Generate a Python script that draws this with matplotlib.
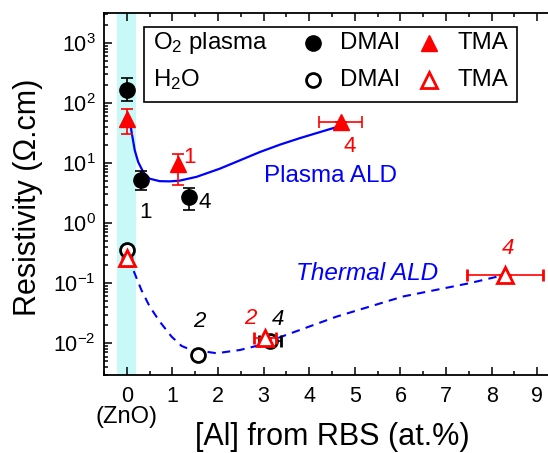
import matplotlib
matplotlib.use("Agg")
import matplotlib.pyplot as plt
from matplotlib.patches import Rectangle
from matplotlib.ticker import MultipleLocator, LogLocator, NullFormatter

plt.rcParams['font.family'] = ['Liberation Sans', 'DejaVu Sans']
plt.rcParams['mathtext.fontset'] = 'custom'
plt.rcParams['mathtext.rm'] = 'Liberation Sans'
plt.rcParams['mathtext.it'] = 'Liberation Sans:italic'
plt.rcParams['mathtext.default'] = 'regular'

# ---------------- data ----------------
# Plasma ALD, DMAI (filled circles)
pd_x = [0.0, 0.32, 1.36]
pd_y = [166, 5.3, 2.7]
pd_ylo = [110, 3.5, 1.66]
pd_yhi = [265, 7.5, 3.9]

# Plasma ALD, TMA (filled triangles)
pt_x = [0.0, 1.13, 4.69]
pt_y = [55, 9.8, 48]
pt_ylo = [31, 4.3, 48]
pt_yhi = [80, 14, 48]
pt_xlo = [0.0, 1.13, 4.22]
pt_xhi = [0.0, 1.13, 5.15]

# Thermal ALD, DMAI (open circles)
td_x = [0.0, 1.56, 3.14]
td_y = [0.36, 0.0064, 0.0107]
td_xlo = [0.0, 1.56, 2.89]
td_xhi = [0.0, 1.56, 3.39]

# Thermal ALD, TMA (open triangles)
tt_x = [0.0, 3.03, 8.30]
tt_y = [0.26, 0.012, 0.138]
tt_ylo = [0.19, 0.012, 0.138]
tt_yhi = [0.26, 0.012, 0.138]
tt_xlo = [0.0, 2.78, 7.46]
tt_xhi = [0.0, 3.28, 9.12]

# guide-to-the-eye curves
plasma_curve_x = [0.0, 0.08, 0.125, 0.175, 0.25, 0.36, 0.50, 0.72, 0.94, 1.16, 1.53, 2.04,
                  2.48, 2.92, 3.36, 3.80, 4.24, 4.53, 4.69]
plasma_curve_y = [58, 42.5, 27, 16.3, 10.4, 7.1, 5.5, 5.0, 4.96, 5.1, 5.9, 8.07,
                  11.1, 15.3, 20.3, 26.1, 32.9, 38.3, 42]
thermal_curve_x = [0.0, 0.14, 0.32, 0.50, 0.72, 0.98, 1.20, 1.38, 1.97, 2.48, 2.92, 3.40,
                   4.60, 6.06, 7.52, 8.30]
thermal_curve_y = [0.26, 0.167, 0.077, 0.041, 0.023, 0.0129, 0.009, 0.0079, 0.0068, 0.0077,
                   0.0093, 0.0129, 0.0277, 0.060, 0.10, 0.138]

xticks = [0, 1, 2, 3, 4, 5, 6, 7, 8, 9]

# ---------------- figure ----------------
W, H = 548, 453
fig = plt.figure(figsize=(W / 100, H / 100), dpi=100)
L, R, T, B = 104, 560, 13, 375
ax = fig.add_axes([L / W, 1 - B / H, (R - L) / W, (B - T) / H])
ax.set_yscale('log')
ax.set_xlim(-0.5, 9.5)
ax.set_ylim(10 ** -2.53, 10 ** 3.5)

# ZnO band
ax.axvspan(-0.21, 0.2, color='#c8f9f9', lw=0, zorder=0)

BLUE = '#0000ff'
RED = '#ff0000'

ax.plot(plasma_curve_x, plasma_curve_y, color=BLUE, lw=1.6, zorder=2)
ax.plot(thermal_curve_x, thermal_curve_y, color=BLUE, lw=1.5, ls=(0, (4, 3)), zorder=2)

ms = 11
cap = 4.3
elw = 1.2

def yerr(y, lo, hi):
    return [[a - b for a, b in zip(y, lo)], [c - a for a, c in zip(y, hi)]]

def xerr(x, lo, hi):
    return [[a - b for a, b in zip(x, lo)], [c - a for a, c in zip(x, hi)]]

# plasma DMAI
ax.errorbar(pd_x, pd_y, yerr=yerr(pd_y, pd_ylo, pd_yhi), fmt='o', color='black',
            ms=ms, capsize=cap, elinewidth=elw, capthick=elw, zorder=3)
# plasma TMA
ax.errorbar(pt_x, pt_y, yerr=yerr(pt_y, pt_ylo, pt_yhi), xerr=xerr(pt_x, pt_xlo, pt_xhi),
            fmt='^', color=RED, ms=ms + 1, capsize=cap, elinewidth=elw, capthick=elw, zorder=4)
# thermal DMAI
ax.errorbar(td_x, td_y, xerr=xerr(td_x, td_xlo, td_xhi), fmt='o', color='black',
            mfc='white', mec='black', mew=2.0, ms=ms - 1, capsize=cap, elinewidth=elw,
            capthick=elw, zorder=3)
# thermal TMA
ax.errorbar(tt_x, tt_y, yerr=yerr(tt_y, tt_ylo, tt_yhi), xerr=xerr(tt_x, tt_xlo, tt_xhi),
            fmt='^', color=RED, mfc='white', mec=RED, mew=2.0, ms=ms, capsize=cap,
            elinewidth=elw, capthick=elw, zorder=4)

# annotations
fs_num = 16
ax.text(1.38, 12.4, "1", color=RED, fontsize=fs_num, ha='center', va='center')
ax.text(0.41, 1.5, "1", color='black', fontsize=fs_num, ha='center', va='center')
ax.text(1.71, 2.24, "4", color='black', fontsize=fs_num, ha='center', va='center')
ax.text(4.88, 18.6, "4", color=RED, fontsize=fs_num, ha='center', va='center')
ax.text(1.58, 0.023, "2", color='black', fontsize=fs_num, style='italic', ha='center', va='center')
ax.text(2.70, 0.026, "2", color=RED, fontsize=fs_num, style='italic', ha='center', va='center')
ax.text(3.31, 0.0245, "4", color='black', fontsize=fs_num, style='italic', ha='center', va='center')
ax.text(8.35, 0.38, "4", color=RED, fontsize=fs_num, style='italic', ha='center', va='center')
ax.text(4.46, 6.2, "Plasma ALD", color=BLUE, fontsize=17.5, ha='center', va='center')
ax.text(5.27, 0.147, "Thermal ALD", color=BLUE, fontsize=17.5, style='italic', ha='center', va='center')

# legend box (manual)
ax.add_patch(Rectangle((0.0877, 0.754), 0.906 - 0.0877, 0.961 - 0.754, transform=ax.transAxes,
                       fill=True, facecolor='white', edgecolor='black', lw=1.2, zorder=5))
fs_leg = 17.3
row1, row2 = 0.917, 0.815
ax.text(0.107, row1, "O$_2$ plasma", transform=ax.transAxes, fontsize=fs_leg, va='center', zorder=6)
ax.text(0.107, row2, "H$_2$O", transform=ax.transAxes, fontsize=fs_leg, va='center', zorder=6)
ax.plot([0.4577], [row1], 'o', color='black', ms=ms, transform=ax.transAxes, zorder=6, clip_on=False)
ax.plot([0.4577], [row2], 'o', color='black', mfc='white', mew=2.0, ms=ms - 1,
        transform=ax.transAxes, zorder=6, clip_on=False)
ax.plot([0.7127], [row1], '^', color=RED, ms=ms + 1, transform=ax.transAxes, zorder=6, clip_on=False)
ax.plot([0.7127], [row2], '^', color=RED, mfc='white', mew=2.0, ms=ms,
        transform=ax.transAxes, zorder=6, clip_on=False)
for r in (row1, row2):
    ax.text(0.5175, r, "DMAI", transform=ax.transAxes, fontsize=fs_leg, va='center', zorder=6)
    ax.text(0.776, r, "TMA", transform=ax.transAxes, fontsize=fs_leg, va='center', zorder=6)

# axes styling
for s in ax.spines.values():
    s.set_linewidth(1.3)
ax.spines['right'].set_visible(False)
ax.set_xticks(xticks)
ax.xaxis.set_minor_locator(MultipleLocator(0.5))
ax.yaxis.set_major_locator(LogLocator(base=10, numticks=20))
ax.yaxis.set_minor_locator(LogLocator(base=10, subs=range(2, 10), numticks=20))
ax.yaxis.set_minor_formatter(NullFormatter())
ax.tick_params(which='both', direction='in', top=True, right=False, width=1.1)
ax.tick_params(which='major', length=6, labelsize=15.5)
ax.tick_params(which='minor', length=3)
ax.tick_params(axis='x', which='major', pad=8)
ax.tick_params(axis='y', which='major', pad=6)

ax.text(0, -0.115, "(ZnO)", transform=ax.get_xaxis_transform(), fontsize=17,
        ha='center', va='center')

ax.set_xlabel("[Al] from RBS (at.%)", fontsize=22, va='center')
ax.xaxis.set_label_coords(0.5, -0.172)
ax.set_ylabel("Resistivity (\u03a9.cm)", fontsize=22, va='center')
ax.yaxis.set_label_coords((28 - L) / (R - L), 0.49)

fig.savefig("out.png", dpi=100)
